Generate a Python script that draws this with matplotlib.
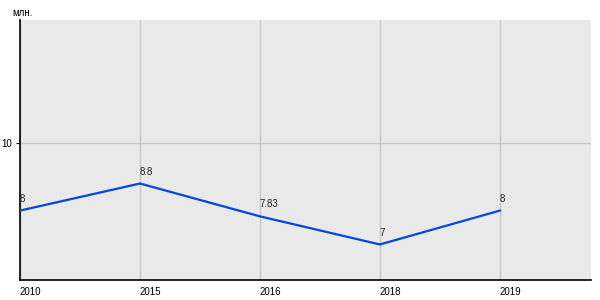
import matplotlib.pyplot as plt

# data
years = ['2010', '2015', '2016', '2018', '2019']
values = [8, 8.8, 7.83, 7, 8]
value_labels = ['8', '8.8', '7.83', '7', '8']

plt.rcParams['font.family'] = ['Liberation Sans', 'DejaVu Sans']

fig = plt.figure(figsize=(6, 3), dpi=100)
ax = fig.add_axes([20/600, 1-280/300, 571/600, 260/300])
ax.set_facecolor('#e9e9e9')

xs = list(range(len(years)))
ax.plot(xs, values, color='#0047e0', lw=1.6, zorder=5)
for x, v, t in zip(xs, values, value_labels):
    ax.annotate(t, (x, v), xytext=(0, 5), textcoords='offset points',
                ha='left', va='bottom', fontsize=7, color='#222222')

ax.set_xlim(0, 4.76)
ax.set_ylim(5.95, 13.63)
ax.set_xticks(xs)
ax.set_xticklabels(years, ha='left', fontsize=7)
ax.set_yticks([10])
ax.set_yticklabels(['10'], fontsize=7)
ax.tick_params(axis='x', length=0, pad=5)
ax.tick_params(axis='y', length=3, width=0.8, pad=3)
ax.grid(True, color='#c6c6c6', lw=1)
ax.set_axisbelow(True)
for s in ['top', 'right']:
    ax.spines[s].set_visible(False)
ax.spines['left'].set_linewidth(1.2)
ax.spines['bottom'].set_linewidth(1.2)

fig.text(12/600, 1-13/300, 'млн.', fontsize=7, va='center', ha='left')

fig.savefig('out.png', dpi=100)
